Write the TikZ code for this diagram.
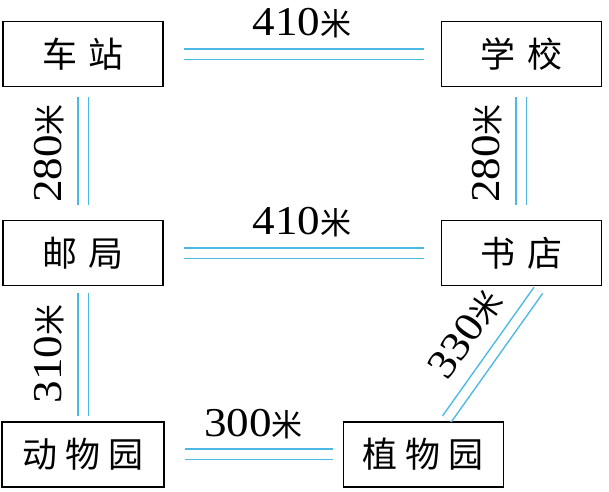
\documentclass[tikz,border=0pt]{standalone}
\usepackage{fontspec}
\setmainfont{Liberation Serif}
\newfontfamily\digitfont[FakeStretch=1.1]{Liberation Serif}
\newfontfamily\cjk{Noto Sans CJK SC}
\usetikzlibrary{positioning}
\definecolor{roadblue}{HTML}{4CB8E6}
\newcommand{\meters}[1]{{\digitfont #1}{\cjk\fontsize{31}{31}\selectfont 米}}

\begin{document}
\begin{tikzpicture}[
  x=1pt, y=-1pt,
  place/.style={draw=black, line width=1.2pt, minimum width=160pt, minimum height=65pt,
                inner sep=0pt, font=\cjk\fontsize{35}{35}\selectfont},
  street/.style={draw=roadblue, line width=1.5pt, double=white, double distance=9pt},
  dist/.style={font=\fontsize{41}{41}\selectfont, inner sep=0pt, sloped}
]
\useasboundingbox (0,0) rectangle (609,491);
\node[place] (station) at (83,54) {车\hspace{12pt}站};
\node[place, right=277pt of station] (school) {学\hspace{12pt}校};
\node[place, below=133pt of station] (post) {邮\hspace{12pt}局};
\node[place, below=133pt of school] (book) {书\hspace{12pt}店};
\node[place, minimum width=162pt, below=135pt of post] (zoo) {动\hspace{8pt}物\hspace{8pt}园};
\node[place, right=178pt of zoo] (garden) {植\hspace{8pt}物\hspace{8pt}园};

% roads
\draw[street, shorten <=20pt, shorten >=17pt] (station) -- node[dist, above=15pt] {\meters{410}} (school);
\draw[street, shorten <=20pt, shorten >=17pt] (post) -- node[dist, above=15pt] {\meters{410}} (book);
\draw[street, shorten <=20pt, shorten >=10pt] (zoo) -- node[dist, above=15pt] {\meters{300}} (garden);
\draw[street, shorten <=15pt, shorten >=10pt] (post) -- node[dist, above=18pt] {\meters{280}} (station);
\draw[street, shorten <=15pt, shorten >=10pt] (book) -- node[dist, above=18pt] {\meters{280}} (school);
\draw[street, shorten <=5pt, shorten >=7pt] (zoo) -- node[dist, above=18pt] {\meters{310}} (post);
\draw[street, shorten <=3pt, shorten >=5pt] ([xshift=22pt]garden.north) -- node[dist, above=18pt] {\meters{330}} ([xshift=20pt]book.south);
\end{tikzpicture}
\end{document}
